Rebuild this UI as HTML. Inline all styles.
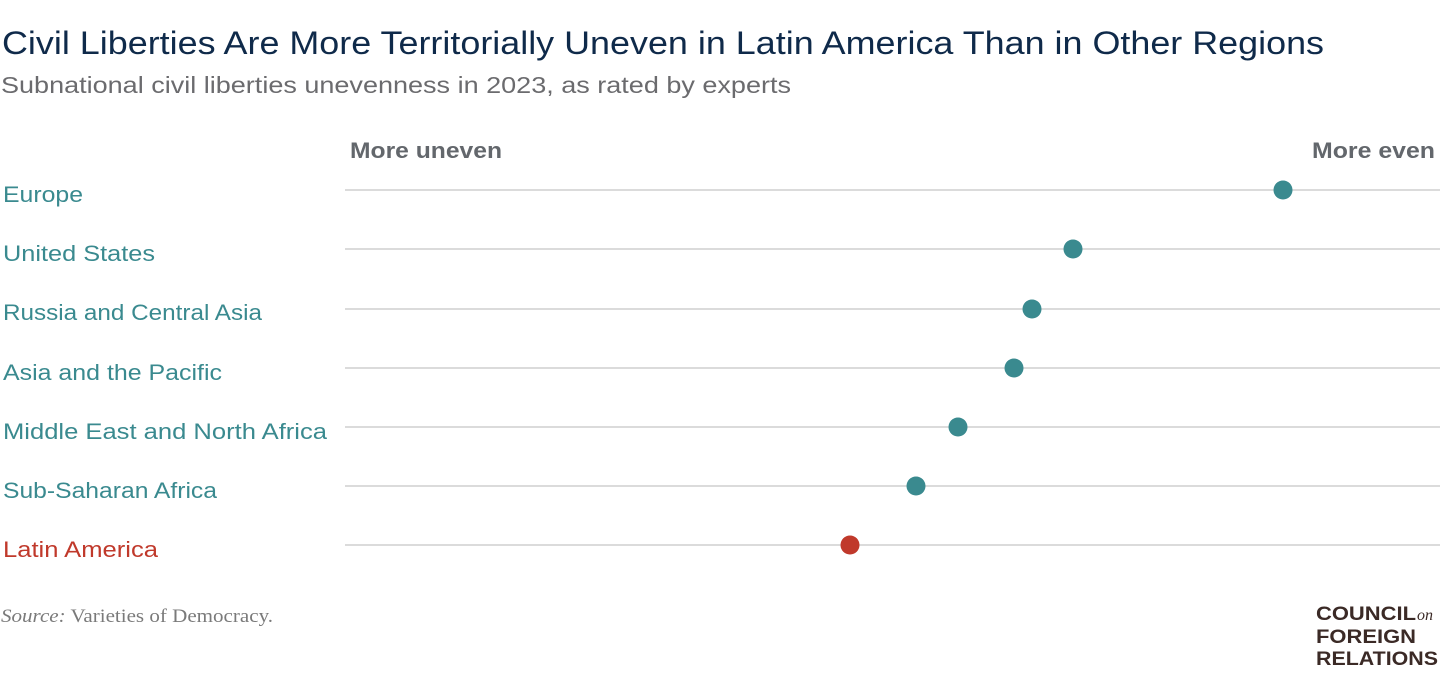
<!DOCTYPE html>
<html><head><meta charset="utf-8"><style>
html,body{margin:0;padding:0;background:#fff;width:1440px;height:691px;overflow:hidden}
svg{display:block}
</style></head><body>
<svg width="1440" height="691" viewBox="0 0 1440 691" xmlns="http://www.w3.org/2000/svg" font-family="Liberation Sans, sans-serif">
<text x="2" y="54" font-size="32" fill="#0f2a4a" textLength="1322" lengthAdjust="spacingAndGlyphs">Civil Liberties Are More Territorially Uneven in Latin America Than in Other Regions</text>
<text x="1" y="93" font-size="23" fill="#6b6b6e" textLength="790" lengthAdjust="spacingAndGlyphs">Subnational civil liberties unevenness in 2023, as rated by experts</text>
<text x="350" y="158" font-size="22" font-weight="bold" fill="#63676c" textLength="152" lengthAdjust="spacingAndGlyphs">More uneven</text>
<text x="1435" y="158" font-size="22" font-weight="bold" fill="#63676c" text-anchor="end" textLength="123" lengthAdjust="spacingAndGlyphs">More even</text>
<g stroke="#cfcfcf" stroke-width="1.5">
<line x1="345" y1="190" x2="1440" y2="190"/>
<line x1="345" y1="249" x2="1440" y2="249"/>
<line x1="345" y1="309" x2="1440" y2="309"/>
<line x1="345" y1="368" x2="1440" y2="368"/>
<line x1="345" y1="427" x2="1440" y2="427"/>
<line x1="345" y1="486" x2="1440" y2="486"/>
<line x1="345" y1="545" x2="1440" y2="545"/>
</g>
<g font-size="22" fill="#3a8a8f">
<text x="3" y="202" textLength="80" lengthAdjust="spacingAndGlyphs">Europe</text>
<text x="3" y="261" textLength="152" lengthAdjust="spacingAndGlyphs">United States</text>
<text x="3" y="320" textLength="259" lengthAdjust="spacingAndGlyphs">Russia and Central Asia</text>
<text x="3" y="380" textLength="219" lengthAdjust="spacingAndGlyphs">Asia and the Pacific</text>
<text x="3" y="439" textLength="324" lengthAdjust="spacingAndGlyphs">Middle East and North Africa</text>
<text x="3" y="498" textLength="214" lengthAdjust="spacingAndGlyphs">Sub-Saharan Africa</text>
<text x="3" y="557" fill="#c0392b" textLength="155" lengthAdjust="spacingAndGlyphs">Latin America</text>
</g>
<g fill="#3a8a8f">
<circle cx="1283" cy="190" r="9.5"/>
<circle cx="1073" cy="249" r="9.5"/>
<circle cx="1032" cy="309" r="9.5"/>
<circle cx="1014" cy="368" r="9.5"/>
<circle cx="958" cy="427" r="9.5"/>
<circle cx="916" cy="486" r="9.5"/>
<circle cx="850" cy="545" r="9.5" fill="#c0392b"/>
</g>
<text x="1" y="622" font-family="Liberation Serif, serif" font-size="19" fill="#7a7a7a" textLength="272" lengthAdjust="spacingAndGlyphs"><tspan font-style="italic">Source:</tspan> Varieties of Democracy.</text>
<g font-size="19" fill="#3b2a26" font-weight="bold">
<text x="1316" y="620" textLength="100" lengthAdjust="spacingAndGlyphs">COUNCIL</text>
<text x="1417" y="620" font-family="Liberation Serif, serif" font-style="italic" font-weight="normal" font-size="16">on</text>
<text x="1316" y="643" textLength="100" lengthAdjust="spacingAndGlyphs">FOREIGN</text>
<text x="1316" y="665" textLength="122" lengthAdjust="spacingAndGlyphs">RELATIONS</text>
</g>
</svg>
</body></html>
